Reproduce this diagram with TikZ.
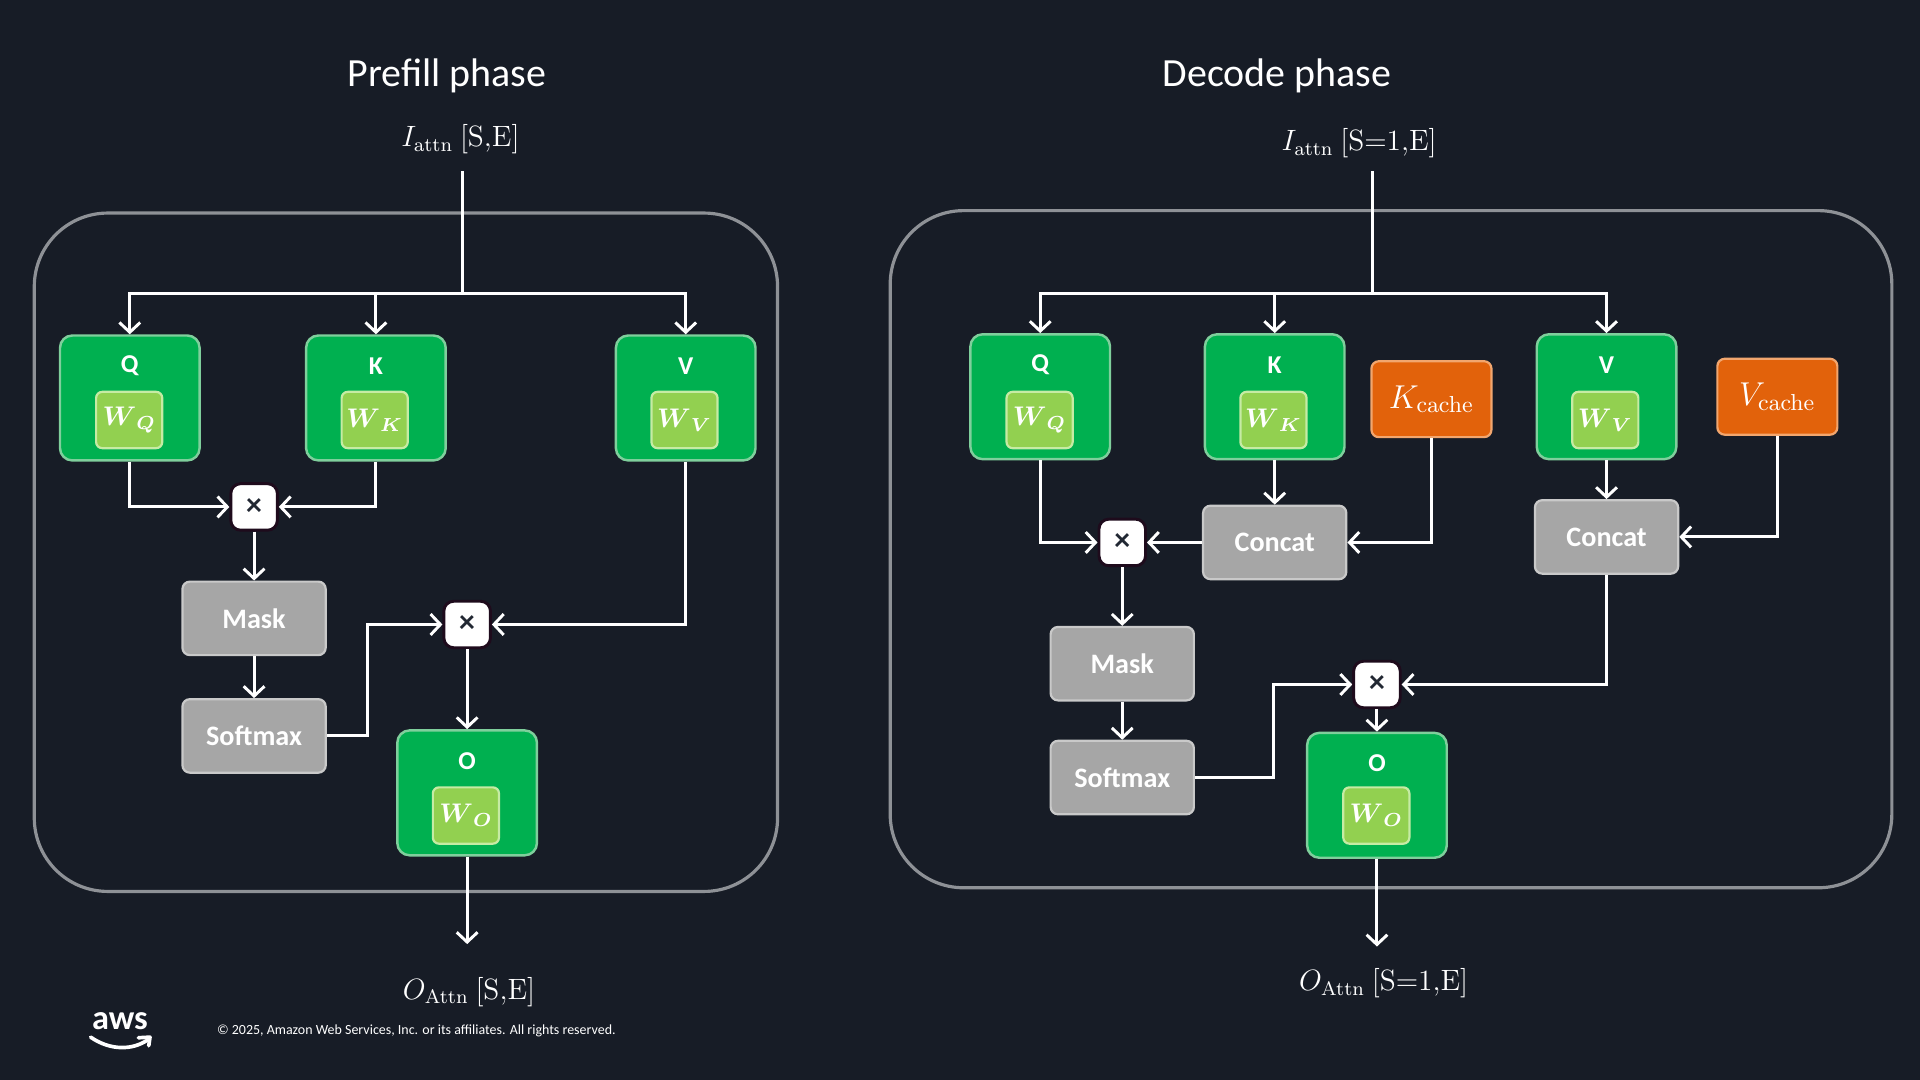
\RequirePackage{fix-cm}
\documentclass[tikz,border=0pt]{standalone}
\usepackage{amsmath}
\usepackage[no-math]{fontspec}
\setmainfont{Carlito}
\usetikzlibrary{arrows.meta}
\definecolor{bg}{HTML}{171C26}
\definecolor{panel}{HTML}{8E9196}
\definecolor{gfill}{HTML}{00B050}
\definecolor{gline}{HTML}{7FCF9C}
\definecolor{lgfill}{HTML}{92D050}
\definecolor{lgline}{HTML}{C6EBA4}
\definecolor{grfill}{HTML}{A6A6A6}
\definecolor{grline}{HTML}{C9C9C9}
\definecolor{ofill}{HTML}{E2620B}
\definecolor{oline}{HTML}{F2A66E}
\definecolor{mline}{HTML}{1E0B1C}
\definecolor{mtext}{HTML}{222833}
\tikzset{
  panelbox/.style={draw=panel, line width=1.3pt, rounded corners=30pt},
  outerbox/.style={fill=gfill, draw=gline, line width=1pt, rounded corners=5pt,
    minimum width=57pt, minimum height=51pt, inner sep=0pt},
  innerbox/.style={fill=lgfill, draw=lgline, line width=0.9pt, rounded corners=2.5pt,
    minimum width=27pt, minimum height=23pt, inner sep=0pt, text=white,
    font=\fontsize{11}{13}\selectfont},
  boxlab/.style={text=white, font=\fontsize{10.5}{12}\selectfont\bfseries, inner sep=0pt},
  graybox/.style={fill=grfill, draw=grline, line width=0.9pt, rounded corners=3pt,
    minimum width=58.5pt, minimum height=30pt, inner sep=0pt, text=white,
    font=\fontsize{11.5}{13}\selectfont\bfseries},
  cachebox/.style={fill=ofill, draw=oline, line width=0.9pt, rounded corners=3pt,
    minimum width=49pt, minimum height=31pt, inner sep=0pt, text=white,
    font=\fontsize{13.5}{15}\selectfont},
  multbox/.style={fill=white, draw=mline, line width=1.2pt, rounded corners=4pt,
    minimum width=19pt, minimum height=19pt, inner sep=0pt, text=mtext,
    font=\fontsize{13}{14}\selectfont\bfseries},
  mathlab/.style={text=white, font=\fontsize{12}{14}\selectfont, inner sep=0pt},
  titlelab/.style={text=white, font=\fontsize{16.3}{19}\selectfont, inner sep=0pt},
  conn/.style={draw=white, line width=1.2pt},
  arr/.style={conn, -{Straight Barb[length=4pt,width=8.5pt,line width=1.2pt]}},
}
\begin{document}
\begin{tikzpicture}[x=0.5pt, y=-0.5pt]
\fill[bg] (0,0) rectangle (1568,882);
\useasboundingbox (0,0) rectangle (1568,882);

% panels
\draw[panelbox] (28,174) rectangle (635,728);
\draw[panelbox] (727,172) rectangle (1545,725);

% titles
\node[titlelab] (tL) at (365,62) {Prefill phase};
\node[titlelab] (tR) at (1043,62) {Decode phase};

% ================= LEFT: prefill =================
\node[mathlab] (inlabL) at (376,114) {$I_{\mathrm{attn}}\ [\mathrm{S{,}E}]$};
\coordinate (inL) at (378,140);
\coordinate (splitL) at (378,240);

\node[outerbox] (qL) at (106,325) {};
\node[boxlab] (qLl) at (106,299) {Q};
\node[innerbox] (wqL) at (105.5,343) {$\boldsymbol{W}_{\boldsymbol{Q}}$};

\node[outerbox] (kL) at (307,325) {};
\node[boxlab] (kLl) at (307,299) {K};
\node[innerbox] (wkL) at (306,343) {$\boldsymbol{W}_{\boldsymbol{K}}$};

\node[outerbox] (vL) at (560,325) {};
\node[boxlab] (vLl) at (560,299) {V};
\node[innerbox] (wvL) at (559,343) {$\boldsymbol{W}_{\boldsymbol{V}}$};

\node[multbox] (m1) at (207.5,414) {×};
\node[graybox] (maskL) at (207.5,505) {Mask};
\node[graybox] (softL) at (207.5,601) {Softmax};
\node[multbox] (m2) at (381.5,510) {×};

\node[outerbox] (oL) at (381.5,647.5) {};
\node[boxlab] (oLl) at (381.5,622) {O};
\node[innerbox] (woL) at (380.5,666) {$\boldsymbol{W}_{\boldsymbol{O}}$};

\coordinate (outL) at (381.5,771);
\node[mathlab] (outlabL) at (383,810) {$O_{\mathrm{Attn}}\ [\mathrm{S{,}E}]$};

\draw[conn] (inL) -- (splitL);
\draw[arr] (splitL) -| (qL.north);
\draw[arr] (splitL) -| (kL.north);
\draw[arr] (splitL) -| (vL.north);
\draw[arr] (qL.south) |- (m1.west);
\draw[arr] (kL.south) |- (m1.east);
\draw[arr] (m1.south) -- (maskL.north);
\draw[arr] (maskL.south) -- (softL.north);
\draw[arr] (softL.east) -- ++(33,0) |- (m2.west);
\draw[arr] (vL.south) |- (m2.east);
\draw[arr] (m2.south) -- (oL.north);
\draw[arr] (oL.south) -- (outL);

% ================= RIGHT: decode =================
\node[mathlab] (inlabR) at (1110,117) {$I_{\mathrm{attn}}\ [\mathrm{S{=}1{,}E}]$};
\coordinate (inR) at (1121,140);
\coordinate (splitR) at (1121,240);

\node[outerbox] (qR) at (849.5,324) {};
\node[boxlab] (qRl) at (849.5,298) {Q};
\node[innerbox] (wqR) at (849,343) {$\boldsymbol{W}_{\boldsymbol{Q}}$};

\node[outerbox] (kR) at (1041,324) {};
\node[boxlab] (kRl) at (1041,298) {K};
\node[innerbox] (wkR) at (1040,343) {$\boldsymbol{W}_{\boldsymbol{K}}$};

\node[cachebox] (kc) at (1169,326) {$K_{\mathrm{cache}}$};

\node[outerbox] (vR) at (1312,324) {};
\node[boxlab] (vRl) at (1312,298) {V};
\node[innerbox] (wvR) at (1311,343) {$\boldsymbol{W}_{\boldsymbol{V}}$};

\node[cachebox] (vc) at (1451.5,324) {$V_{\mathrm{cache}}$};

\node[graybox] (c1) at (1041,443) {Concat};
\node[graybox] (c2) at (1312,438.5) {Concat};
\node[multbox] (m3) at (916.5,443) {×};
\node[graybox] (maskR) at (916.5,542) {Mask};
\node[graybox] (softR) at (916.5,635) {Softmax};
\node[multbox] (m4) at (1124.5,559) {×};

\node[outerbox] (oR) at (1124.5,649.5) {};
\node[boxlab] (oRl) at (1124.5,623) {O};
\node[innerbox] (woR) at (1124,666) {$\boldsymbol{W}_{\boldsymbol{O}}$};

\coordinate (outR) at (1124.5,773);
\node[mathlab] (outlabR) at (1130,803) {$O_{\mathrm{Attn}}\ [\mathrm{S{=}1{,}E}]$};

\draw[conn] (inR) -- (splitR);
\draw[arr] (splitR) -| (qR.north);
\draw[arr] (splitR) -| (kR.north);
\draw[arr] (splitR) -| (vR.north);
\draw[arr] (qR.south) |- (m3.west);
\draw[arr] (c1.west) -- (m3.east);
\draw[arr] (kR.south) -- (c1.north);
\draw[arr] (kc.south) |- (c1.east);
\draw[arr] (m3.south) -- (maskR.north);
\draw[arr] (maskR.south) -- (softR.north);
\draw[arr] (softR.east) -- ++(64,0) |- (m4.west);
\draw[arr] (vR.south) -- (c2.north);
\draw[arr] (vc.south) |- (c2.east);
\draw[arr] (c2.south) |- (m4.east);
\draw[arr] (m4.south) -- (oR.north);
\draw[arr] (oR.south) -- (outR);

% ================= footer =================
\node[text=white, font=\fontsize{14}{16}\selectfont\bfseries, inner sep=0pt] (aws) at (98,834) {aws};
\draw[white, line width=1.5pt, line cap=round] (74,847) .. controls (90,858) and (108,858) .. (121,849);
\draw[white, line width=1.5pt, line cap=round, line join=round] (113,847.5) -- (122.5,847) -- (121.5,854);
\node[text=white, font=\fontsize{5.7}{6.5}\selectfont, inner sep=0pt] (copy) at (340,841.5) {© 2025, Amazon Web Services, Inc. or its affiliates. All rights reserved.};
\end{tikzpicture}
\end{document}
